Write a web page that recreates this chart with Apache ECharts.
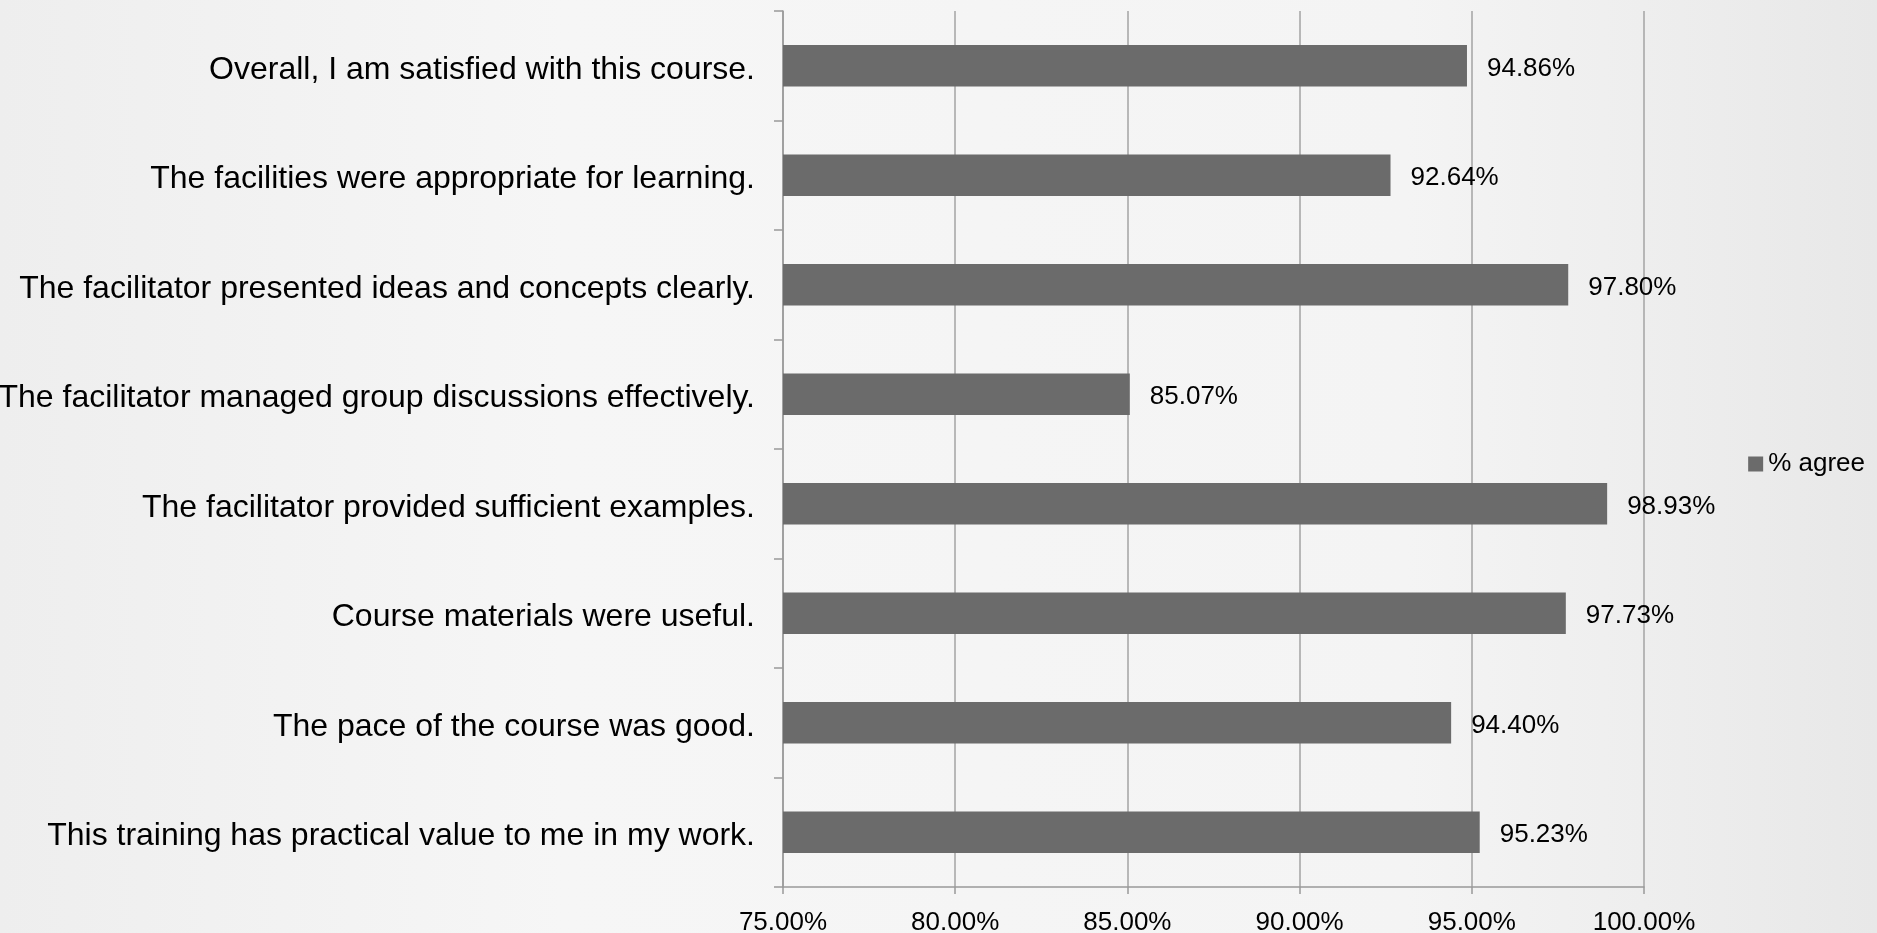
<!DOCTYPE html>
<html>
<head>
<meta charset="utf-8">
<script src="https://cdn.jsdelivr.net/npm/echarts@6/dist/echarts.min.js"></script>
<style>
html,body{margin:0;padding:0;width:1877px;height:933px;overflow:hidden;background:#f2f2f2;}
#chart{width:1877px;height:933px;}
</style>
</head>
<body>
<div id="chart"></div>
<script>
const categories = [
  "Overall, I am satisfied with this course.",
  "The facilities were appropriate for learning.",
  "The facilitator presented ideas and concepts clearly.",
  "The facilitator managed group discussions effectively.",
  "The facilitator provided sufficient examples.",
  "Course materials were useful.",
  "The pace of the course was good.",
  "This training has practical value to me in my work."
];
const agreeValues = [94.86, 92.64, 97.80, 85.07, 98.93, 97.73, 94.40, 95.23];
const seriesName = "% agree";
const axisMin = 75, axisMax = 100, axisStep = 5;

const chart = echarts.init(document.getElementById('chart'), null, {renderer: 'canvas'});
const font = '"Liberation Sans", Arial, sans-serif';
chart.setOption({
  animation: false,
  backgroundColor: {
    type: 'linear', x: 0, y: 0, x2: 1, y2: 0,
    colorStops: [
      {offset: 0, color: '#eeeeee'},
      {offset: 0.3, color: '#f6f6f6'},
      {offset: 0.75, color: '#f4f4f4'},
      {offset: 1, color: '#e8e8e8'}
    ]
  },
  textStyle: {fontFamily: font},
  grid: {left: 783, right: 233, top: 11, bottom: 46, containLabel: false, outerBoundsMode: 'none'},
  legend: {
    data: [seriesName],
    right: 12, top: 451,
    padding: 0,
    itemWidth: 15, itemHeight: 15, itemGap: 10,
    icon: 'rect',
    textStyle: {fontSize: 26, color: '#000', fontFamily: font}
  },
  xAxis: {
    type: 'value', min: axisMin, max: axisMax, interval: axisStep,
    axisLine: {show: true, lineStyle: {color: '#999999', width: 1.5}},
    axisTick: {show: true, length: 7, lineStyle: {color: '#999999', width: 1.5}},
    splitLine: {show: true, lineStyle: {color: '#a3a3a3', width: 1.5}},
    axisLabel: {
      fontSize: 26, color: '#000', margin: 23, fontFamily: font,
      formatter: v => v.toFixed(2) + '%'
    }
  },
  yAxis: {
    type: 'category', data: categories, inverse: true,
    axisLine: {show: true, lineStyle: {color: '#999999', width: 1.5}},
    axisTick: {show: true, length: 9, lineStyle: {color: '#999999', width: 1.5}},
    axisLabel: {
      color: '#000', margin: 28, fontFamily: font, fontSize: 32,
      formatter: v => '{t|' + v + '}',
      rich: {t: {fontSize: 32, color: '#000', fontFamily: font, padding: [8, 0, 0, 0]}}
    }
  },
  series: [{
    name: seriesName, type: 'bar', data: agreeValues,
    barWidth: '38%',
    itemStyle: {color: '#6b6b6b'},
    label: {
      show: true, position: 'right', distance: 20, offset: [0, 3],
      fontSize: 26, color: '#000', fontFamily: font,
      formatter: p => p.value.toFixed(2) + '%'
    }
  }]
});
</script>
</body>
</html>
